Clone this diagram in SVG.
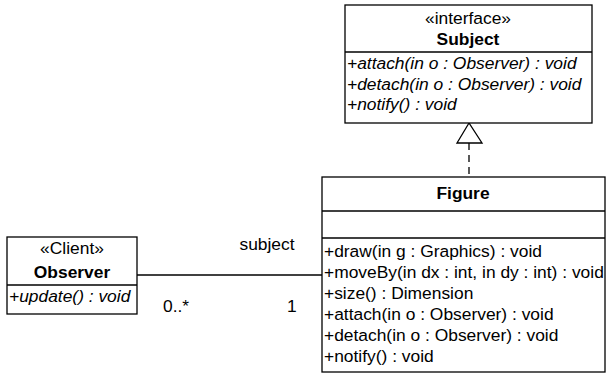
<svg xmlns="http://www.w3.org/2000/svg" width="613" height="376" viewBox="0 0 613 376">
<style>
text{font-family:"Liberation Sans",Arial,sans-serif;font-size:17.4px;fill:#000}
.c{text-anchor:middle}
.b{font-weight:bold}
.i{font-style:italic}
.box{fill:#fff;stroke:#000;stroke-width:1.3}
.ln{stroke:#000;stroke-width:1.3;fill:none}
</style>
<rect width="613" height="376" fill="#fff"/>
<g id="connectors">
<line class="ln" x1="469" y1="143" x2="469" y2="178" stroke-dasharray="7,5"/>
<polygon points="469,123 457,143 482,143" fill="#fff" stroke="#000" stroke-width="1.3"/>
<line class="ln" x1="137" y1="275" x2="322" y2="275"/>
<text x="267" y="250" class="c">subject</text>
<text x="163" y="312">0..*</text>
<text x="287" y="312">1</text>
</g>
<g id="Subject">
<rect class="box" x="345" y="5" width="247" height="118"/>
<line class="ln" x1="345" y1="52" x2="592" y2="52"/>
<text x="468" y="24" class="c">«interface»</text>
<text x="468" y="45" class="c b">Subject</text>
<text x="347" y="69" class="i">+attach(in o : Observer) : void</text>
<text x="347" y="90" class="i">+detach(in o : Observer) : void</text>
<text x="347" y="110" class="i">+notify() : void</text>
</g>
<g id="Figure">
<rect class="box" x="322" y="177" width="283" height="195"/>
<line class="ln" x1="322" y1="211" x2="605" y2="211"/>
<line class="ln" x1="322" y1="238" x2="605" y2="238"/>
<text x="463" y="199" class="c b">Figure</text>
<text x="324" y="257">+draw(in g : Graphics) : void</text>
<text x="324" y="278">+moveBy(in dx : int, in dy : int) : void</text>
<text x="324" y="299">+size() : Dimension</text>
<text x="324" y="320">+attach(in o : Observer) : void</text>
<text x="324" y="341">+detach(in o : Observer) : void</text>
<text x="324" y="362">+notify() : void</text>
</g>
<g id="Observer">
<rect class="box" x="7" y="237" width="130" height="77"/>
<line class="ln" x1="7" y1="285" x2="137" y2="285"/>
<text x="72" y="254" class="c">«Client»</text>
<text x="72" y="278" class="c b">Observer</text>
<text x="9" y="302" class="i">+update() : void</text>
</g>
</svg>
